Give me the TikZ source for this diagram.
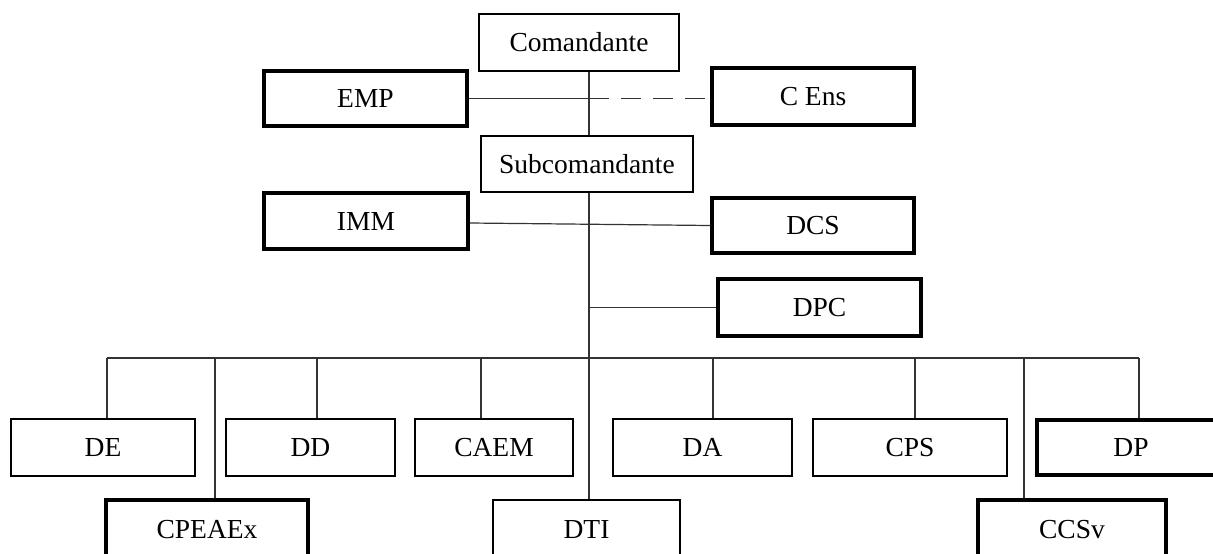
\documentclass[tikz,border=0pt]{standalone}
\usepackage{fontspec}
\setmainfont{Liberation Serif}

\begin{document}
\begin{tikzpicture}
	[
		x=1pt, y=-1pt,
		% Plain box of the chart.
		unit/.style={draw=black, line width=2pt, inner sep=0pt, align=center,
			font=\fontsize{27.5}{30}\selectfont},
		% And a box with a heavier border.
		tunit/.style={unit, line width=3.5pt},
		% Thin connector.
		link/.style={draw=black!80, line width=1.2pt}
	]
		\useasboundingbox (0,0) rectangle (1213,554);
		\clip (0,0) rectangle (1213,554);

		% Top of the chart
		\node[unit, minimum width=200pt, minimum height=57pt] (com) at (579,42.5) {Comandante};
		\node[tunit, minimum width=203pt, minimum height=55pt] (emp) at (365.5,98.5) {EMP};
		\node[tunit, minimum width=202pt, minimum height=57pt] (cens) at (813,96.5) {C Ens};
		\node[unit, minimum width=212pt, minimum height=56pt] (sub) at (587,164) {Subcomandante};
		\node[tunit, minimum width=204pt, minimum height=56pt] (imm) at (366,221) {IMM};
		\node[tunit, minimum width=202pt, minimum height=55pt] (dcs) at (813,225.5) {DCS};
		\node[tunit, minimum width=203pt, minimum height=57pt] (dpc) at (819.5,307.5) {DPC};

		% First row
		\node[unit, minimum width=184pt, minimum height=57pt] (de) at (103,447.5) {DE};
		\node[unit, minimum width=169pt, minimum height=57pt] (dd) at (310.5,447.5) {DD};
		\node[unit, minimum width=158pt, minimum height=57pt] (caem) at (494,447.5) {CAEM};
		\node[unit, minimum width=179pt, minimum height=57pt] (da) at (702.5,447.5) {DA};
		\node[unit, minimum width=194pt, minimum height=57pt] (cps) at (910,447.5) {CPS};
		\node[tunit, minimum width=188pt, minimum height=55pt] (dp) at (1131,447.5) {DP};

		% Second row
		\node[tunit, minimum width=202pt, minimum height=60pt] (cpeaex) at (207,530) {CPEAEx};
		\node[unit, minimum width=187pt, minimum height=60pt] (dti) at (586.5,530) {DTI};
		\node[tunit, minimum width=188pt, minimum height=60pt] (ccsv) at (1072,530) {CCSv};

		\coordinate (trunk) at (589,0);
		\coordinate (busl) at (107,358);
		\coordinate (busr) at (1139,358);

		% Draw lines
		\draw[link] (com.south -| trunk) -- (sub.north -| trunk);
		\draw[link] (emp.east) -- (emp.east -| trunk);
		\draw[link, dash pattern=on 20pt off 12pt] (emp.east -| trunk) -- (cens.west |- emp.east);
		\draw[link] (sub.south -| trunk) -- (dti.north -| trunk);
		\draw[link] (imm.east) ++(0,2) -- (dcs.west);
		\draw[link] (dpc.west) -- (dpc.west -| trunk);
		\draw[link] (busl) -- (busr);
		\foreach \n/\x in {de/107, dd/317, caem/481, da/713, cps/915, dp/1139, cpeaex/215, ccsv/1024}
			\draw[link] (busl -| \x,0) -- (\n.north -| \x,0);
	\end{tikzpicture}
\end{document}
